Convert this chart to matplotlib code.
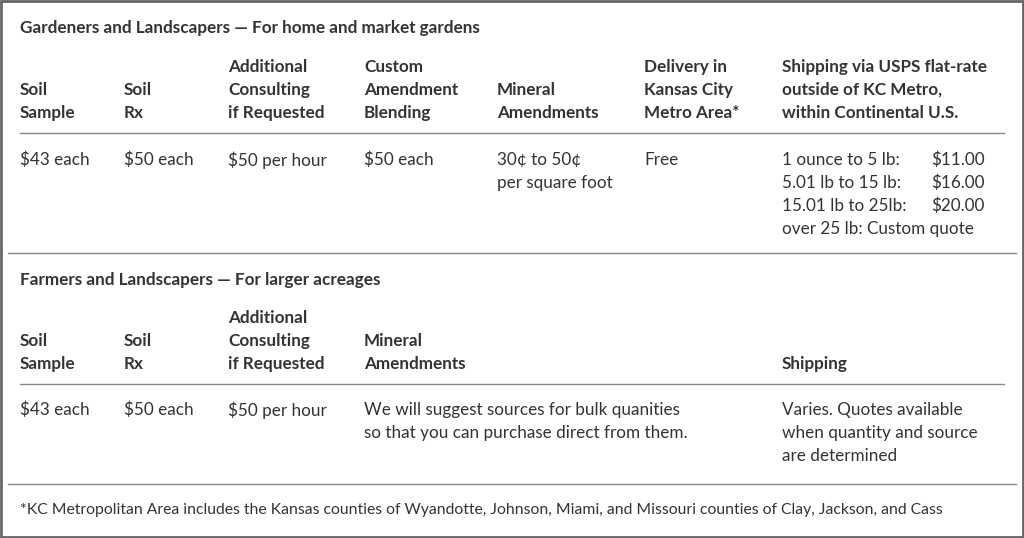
import matplotlib
matplotlib.use("Agg")
import matplotlib.pyplot as plt

title1 = "Gardeners and Landscapers — For home and market gardens"
headers1 = [["Soil", "Sample"], ["Soil", "Rx"], ["Additional", "Consulting", "if Requested"],
            ["Custom", "Amendment", "Blending"], ["Mineral", "Amendments"],
            ["Delivery in", "Kansas City", "Metro Area*"],
            ["Shipping via USPS flat-rate", "outside of KC Metro,", "within Continental U.S."]]
values1 = [["$43 each"], ["$50 each"], ["$50 per hour"], ["$50 each"],
           ["30¢ to 50¢", "per square foot"], ["Free"]]
ship_labels = ["1 ounce to 5 lb:", "5.01 lb to 15 lb:", "15.01 lb to 25lb:", "over 25 lb: Custom quote"]
ship_prices = ["$11.00", "$16.00", "$20.00", ""]

title2 = "Farmers and Landscapers — For larger acreages"
headers2 = [["Soil", "Sample"], ["Soil", "Rx"], ["Additional", "Consulting", "if Requested"],
            ["Mineral", "Amendments"], ["Shipping"]]
values2 = [["$43 each"], ["$50 each"], ["$50 per hour"],
           ["We will suggest sources for bulk quanities", "so that you can purchase direct from them."],
           ["Varies. Quotes available", "when quantity and source", "are determined"]]
footnote = ("*KC Metropolitan Area includes the Kansas counties of Wyandotte, Johnson, Miami, "
            "and Missouri counties of Clay, Jackson, and Cass")

cols1 = [20, 124, 228, 364, 497, 644, 782]
cols2 = [20, 124, 228, 364, 782]
LH = 23
FONT = "Lato"
C = "#333333"
FS = 12.3

fig = plt.figure(figsize=(10.24, 5.38), dpi=100)
ax = fig.add_axes([0, 0, 1, 1])
ax.set_xlim(0, 1024); ax.set_ylim(538, 0); ax.axis("off")
ax.add_patch(plt.Rectangle((1, 1), 1022, 536, fill=False, ec="#666666", lw=2))

def t(x, y, s, bold=False, ha="left", fs=FS):
    ax.text(x, y, s, ha=ha, va="center", fontsize=fs, family=FONT, color=C,
            fontweight="bold" if bold else "normal")

def headers(hs, cols, ybottom):
    for x, h in zip(cols, hs):
        for i, line in enumerate(h):
            t(x, ybottom - (len(h) - 1 - i) * LH, line, bold=True)

def values(vs, cols, ytop):
    for x, v in zip(cols, vs):
        for i, line in enumerate(v):
            t(x, ytop + i * LH, line)

t(20, 28, title1, bold=True)
headers(headers1, cols1, 113)
ax.plot([20, 1004], [133, 133], color="#888888", lw=1)
values(values1, cols1, 160)
for i, (l, p) in enumerate(zip(ship_labels, ship_prices)):
    t(782, 160 + i * LH, l)
    if p:
        t(985, 160 + i * LH, p, ha="right")
ax.plot([8, 1016], [253, 253], color="#888888", lw=1)

t(20, 280, title2, bold=True)
headers(headers2, cols2, 364)
ax.plot([20, 1004], [384, 384], color="#888888", lw=1)
values(values2, cols2, 410)
ax.plot([8, 1016], [484, 484], color="#888888", lw=1)
t(20, 510, footnote, fs=11.3)

fig.savefig("out.png", dpi=100)
